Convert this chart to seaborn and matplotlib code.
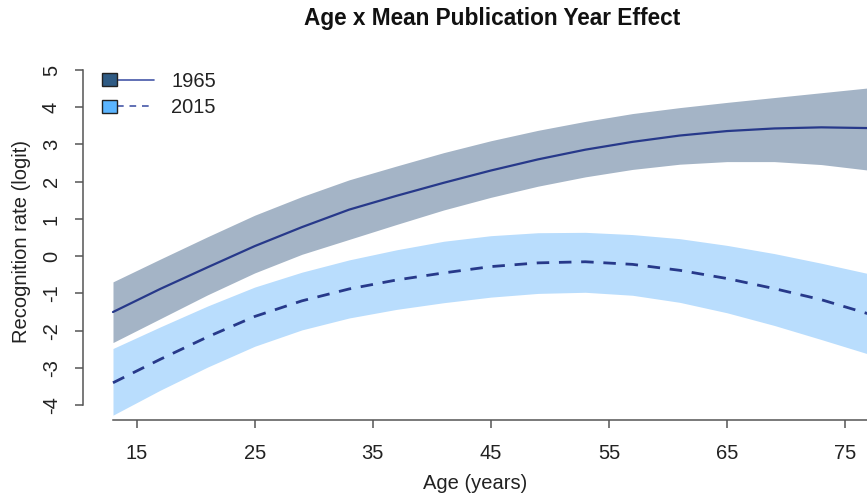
import matplotlib
matplotlib.use("Agg")
import matplotlib.pyplot as plt
import seaborn as sns
import numpy as np
import pandas as pd
from matplotlib.legend_handler import HandlerBase
from matplotlib.patches import Rectangle
from matplotlib.lines import Line2D

# ---------------- data ----------------
age = [13, 17, 21, 25, 29, 33, 37, 41, 45, 49, 53, 57, 61, 65, 69, 73, 77]

fit_1965 = [-1.50, -0.88, -0.30, 0.27, 0.78, 1.25, 1.62, 1.97, 2.30, 2.60, 2.86, 3.07, 3.24, 3.36, 3.43, 3.46, 3.44]
hi_1965 = [-0.69, -0.08, 0.52, 1.10, 1.60, 2.05, 2.42, 2.78, 3.10, 3.38, 3.62, 3.83, 3.99, 4.13, 4.26, 4.39, 4.52]
lo_1965 = [-2.32, -1.68, -1.04, -0.45, 0.05, 0.45, 0.85, 1.24, 1.58, 1.88, 2.13, 2.33, 2.47, 2.54, 2.54, 2.46, 2.31]

fit_2015 = [-3.40, -2.77, -2.17, -1.62, -1.20, -0.88, -0.64, -0.45, -0.28, -0.18, -0.15, -0.22, -0.38, -0.60, -0.87, -1.17, -1.55]
hi_2015 = [-2.48, -1.90, -1.34, -0.83, -0.43, -0.10, 0.17, 0.40, 0.55, 0.63, 0.64, 0.58, 0.47, 0.29, 0.07, -0.19, -0.47]
lo_2015 = [-4.27, -3.60, -2.98, -2.42, -1.98, -1.66, -1.43, -1.25, -1.10, -1.00, -0.97, -1.05, -1.24, -1.52, -1.86, -2.24, -2.63]

series_labels = ["1965", "2015"]
x_ticks = [15, 25, 35, 45, 55, 65, 75]
y_ticks = [-4, -3, -2, -1, 0, 1, 2, 3, 4, 5]

title = "Age x Mean Publication Year Effect"
x_label = "Age (years)"
y_label = "Recognition rate (logit)"

# ---------------- style ----------------
sns.set_theme(style="ticks")
plt.rcParams["font.family"] = ["Liberation Sans", "DejaVu Sans"]

W, H = 867, 498
fig = plt.figure(figsize=(W / 100, H / 100), dpi=100)

ax_left_px, ax_bottom_px = 83, 420
y_lo, y_hi = -4.4, 5.2
x_lo, x_hi = 10.46, 76.86
ax_top_px = 70 - 0.2 * 37.2
ax = fig.add_axes([ax_left_px / W, 1 - ax_bottom_px / H,
                   1 - ax_left_px / W, (ax_bottom_px - ax_top_px) / H])

band_1965 = "#A4B4C6"
band_2015 = "#B9DDFD"
line_col = "#27398A"

df = pd.DataFrame({"age": age, "fit_1965": fit_1965, "fit_2015": fit_2015})

ax.fill_between(age, lo_2015, hi_2015, color=band_2015, linewidth=0, zorder=1)
ax.fill_between(age, lo_1965, hi_1965, color=band_1965, linewidth=0, zorder=1)

sns.lineplot(data=df, x="age", y="fit_1965", ax=ax, color=line_col,
             linewidth=1.6, zorder=3)
sns.lineplot(data=df, x="age", y="fit_2015", ax=ax, color=line_col,
             linewidth=2.0, zorder=3)
ax.lines[-1].set_dashes([4.5, 3.5])

ax.set_xlim(x_lo, x_hi)
ax.set_ylim(y_lo, y_hi)
ax.set_xticks(x_ticks)
ax.set_yticks(y_ticks)
ax.set_xticklabels([str(t) for t in x_ticks])
ax.set_yticklabels([str(t) for t in y_ticks], rotation=90, va="center")

for s in ["top", "right"]:
    ax.spines[s].set_visible(False)
spine_col = "#555555"
ax.spines["left"].set_bounds(-4, 5)
ax.spines["bottom"].set_bounds(13, x_hi)
for s in ["left", "bottom"]:
    ax.spines[s].set_color(spine_col)
    ax.spines[s].set_linewidth(1.1)
ax.tick_params(axis="both", direction="out", length=6, width=1.1,
               color=spine_col, labelsize=14.5, labelcolor="#222222")
ax.tick_params(axis="x", pad=11)
ax.tick_params(axis="y", pad=10)

ax.set_xlabel(x_label, fontsize=14.5, color="#222222", labelpad=8.5)
ax.set_ylabel(y_label, fontsize=14.5, color="#222222", labelpad=8)
fig.text(492 / W, 1 - 19 / H, title, ha="center", va="center",
         fontsize=16.3, fontweight="bold", color="#111111")


# ---------------- legend (box + line handles) ----------------
class BoxLine:
    def __init__(self, face, ls):
        self.face = face
        self.ls = ls


class BoxLineHandler(HandlerBase):
    def create_artists(self, legend, orig, xdescent, ydescent, width, height,
                       fontsize, trans):
        bw = 0.745 * fontsize
        bh = 0.65 * fontsize
        yc = height / 2 - ydescent
        x0 = -xdescent
        line = Line2D([x0 + bw, x0 + width], [yc, yc], color="#4658A8",
                      linestyle=orig.ls, linewidth=1.2, transform=trans)
        if orig.ls == "--":
            line.set_dashes([4, 3.5])
        rect = Rectangle((x0, yc - bh / 2), bw, bh, facecolor=orig.face,
                         edgecolor="#222222", linewidth=1.0, transform=trans)
        return [line, rect]


handles = [BoxLine("#2F5B84", "-"), BoxLine("#5BB5FF", "--")]
leg = ax.legend(handles, series_labels,
                handler_map={BoxLine: BoxLineHandler()},
                loc="upper left",
                bbox_to_anchor=((102 - ax_left_px) / (W - ax_left_px),
                                (ax_bottom_px - 72) / (ax_bottom_px - ax_top_px)),
                borderaxespad=0, borderpad=0, frameon=False,
                handlelength=2.6, handletextpad=0.85, labelspacing=0.36,
                fontsize=14.5)
for t in leg.get_texts():
    t.set_color("#222222")

fig.savefig("out.png", dpi=100)
